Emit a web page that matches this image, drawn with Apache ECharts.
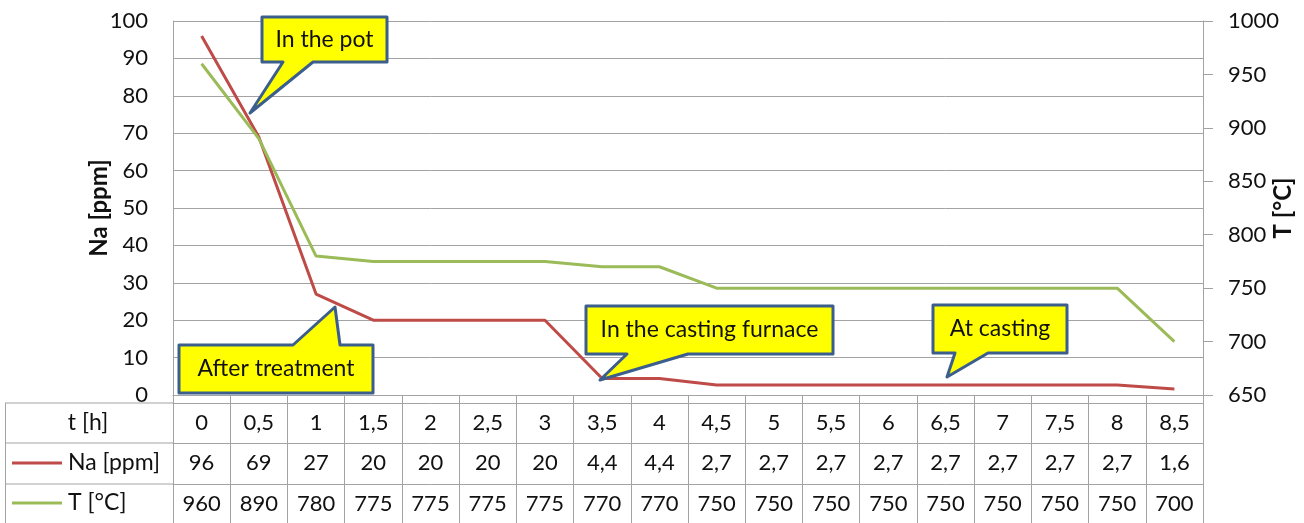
<!DOCTYPE html>
<html>
<head>
<meta charset="utf-8">
<script src="https://cdn.jsdelivr.net/npm/echarts@6/dist/echarts.min.js"></script>
<style>
  html, body { margin: 0; padding: 0; background: #fff; }
  #chart { width: 1304px; height: 523px; }
</style>
</head>
<body>
<div id="chart"></div>
<script>
// data
const timeLabels = ['0', '0,5', '1', '1,5', '2', '2,5', '3', '3,5', '4', '4,5', '5', '5,5', '6', '6,5', '7', '7,5', '8', '8,5'];
const naValues = [96, 69, 27, 20, 20, 20, 20, 4.4, 4.4, 2.7, 2.7, 2.7, 2.7, 2.7, 2.7, 2.7, 2.7, 1.6];
const tempValues = [960, 890, 780, 775, 775, 775, 775, 770, 770, 750, 750, 750, 750, 750, 750, 750, 750, 700];
const naTicks = { min: 0, max: 100, step: 10 };
const tempTicks = { min: 650, max: 1000, step: 50 };
const calloutTexts = ['In the pot', 'After treatment', 'In the casting furnace', 'At casting'];

const FONT = 'Lato, "Open Sans", sans-serif';
const GRAY = '#A3A3A3';
const RED = '#BE4B48';
const GREEN = '#9BBB59';

const comma = v => String(v).replace('.', ',');

// callout shapes (box + pointer), pixel layout
const calloutShapes = [
  { box: [262, 17, 387, 62], side: 'bottom', base: [283, 313], tip: [250, 113] },
  { box: [179, 345, 373, 393], side: 'top', base: [293, 340], tip: [335, 307] },
  { box: [586, 306, 833, 354], side: 'bottom', base: [627, 688], tip: [600, 380] },
  { box: [933, 305, 1067, 353], side: 'bottom', base: [955, 988], tip: [947, 377] },
];

function calloutGraphic(shape, text) {
  const [x0, y0, x1, y1] = shape.box;
  const [b0, b1] = shape.base;
  let pts;
  if (shape.side === 'bottom') {
    pts = [[x0, y0], [x1, y0], [x1, y1], [b1, y1], shape.tip, [b0, y1], [x0, y1]];
  } else {
    pts = [[x0, y0], [b0, y0], shape.tip, [b1, y0], [x1, y0], [x1, y1], [x0, y1]];
  }
  return [
    {
      type: 'polygon',
      z: 100,
      shape: { points: pts },
      style: { fill: '#FFFF00', stroke: '#3B5E8C', lineWidth: 3, lineJoin: 'round' },
    },
    {
      type: 'text',
      z: 101,
      x: (x0 + x1) / 2,
      y: (y0 + y1) / 2,
      style: {
        text: text, font: '23px ' + FONT, fill: '#111',
        align: 'center', verticalAlign: 'middle',
      },
    },
  ];
}

const chart = echarts.init(document.getElementById('chart'));

const tableAxis = (offset, labels) => ({
  type: 'category',
  data: timeLabels,
  position: 'bottom',
  offset: offset,
  boundaryGap: true,
  axisLine: { show: true, lineStyle: { color: GRAY, width: 1 } },
  axisTick: { show: false },
  splitLine: { show: false },
  axisLabel: {
    show: labels != null,
    interval: 0,
    margin: 20,
    verticalAlign: 'middle',
    color: '#111',
    fontSize: 22,
    fontFamily: FONT,
    formatter: (v, i) => (labels ? labels[i] : ''),
  },
});

const graphics = [];
// left header column of the data table
[403, 443, 484].forEach(y => {
  graphics.push({ type: 'line', shape: { x1: 5, y1: y, x2: 173, y2: y }, style: { stroke: GRAY, lineWidth: 1 } });
});
graphics.push({ type: 'line', shape: { x1: 5.5, y1: 403, x2: 5.5, y2: 523 }, style: { stroke: GRAY, lineWidth: 1 } });
graphics.push({ type: 'text', x: 88, y: 423, style: { text: 't [h]', font: '23px ' + FONT, fill: '#111', align: 'center', verticalAlign: 'middle' } });
graphics.push({ type: 'line', shape: { x1: 12, y1: 463, x2: 62, y2: 463 }, style: { stroke: RED, lineWidth: 3 } });
graphics.push({ type: 'text', x: 68, y: 463, style: { text: 'Na [ppm]', font: '23px ' + FONT, fill: '#111', align: 'left', verticalAlign: 'middle' } });
graphics.push({ type: 'line', shape: { x1: 12, y1: 503, x2: 62, y2: 503 }, style: { stroke: GREEN, lineWidth: 3 } });
graphics.push({ type: 'text', x: 68, y: 503, style: { text: 'T [°C]', font: '23px ' + FONT, fill: '#111', align: 'left', verticalAlign: 'middle' } });
calloutShapes.forEach((s, i) => graphics.push(...calloutGraphic(s, calloutTexts[i])));

chart.setOption({
  animation: false,
  backgroundColor: '#fff',
  textStyle: { fontFamily: FONT },
  grid: { left: 173, right: 101, top: 21, bottom: 128, containLabel: false, outerBoundsMode: 'none' },
  xAxis: [
    {
      type: 'category',
      data: timeLabels,
      boundaryGap: true,
      axisLine: { show: true, lineStyle: { color: GRAY, width: 1 } },
      axisTick: { show: true, interval: 0, length: 130, lineStyle: { color: GRAY, width: 1 } },
      axisLabel: { show: false },
      splitLine: { show: false },
    },
    tableAxis(8, timeLabels),
    tableAxis(48, naValues.map(comma)),
    tableAxis(89, tempValues.map(comma)),
  ],
  yAxis: [
    {
      type: 'value',
      min: naTicks.min,
      max: naTicks.max,
      interval: naTicks.step,
      name: 'Na [ppm]',
      nameLocation: 'middle',
      nameRotate: 90,
      nameGap: 62,
      nameMoveOverlap: false,
      nameTextStyle: { fontSize: 24, fontWeight: 'bold', color: '#111', fontFamily: FONT },
      axisLine: { show: true, lineStyle: { color: GRAY } },
      axisTick: { show: false },
      axisLabel: { margin: 25, fontSize: 22, color: '#111', fontFamily: FONT, formatter: v => String(v) },
      splitLine: { show: true, lineStyle: { color: GRAY, width: 1 } },
    },
    {
      type: 'value',
      position: 'right',
      min: tempTicks.min,
      max: tempTicks.max,
      interval: tempTicks.step,
      name: 'T [°C]',
      nameLocation: 'middle',
      nameRotate: 90,
      nameGap: 68,
      nameMoveOverlap: false,
      nameTextStyle: { fontSize: 24, fontWeight: 'bold', color: '#111', fontFamily: FONT },
      axisLine: { show: true, lineStyle: { color: GRAY } },
      axisTick: { show: true, length: 10, lineStyle: { color: GRAY } },
      axisLabel: { margin: 25, fontSize: 22, color: '#111', fontFamily: FONT, formatter: v => String(v) },
      splitLine: { show: false },
    },
  ],
  series: [
    {
      name: 'Na [ppm]',
      type: 'line',
      xAxisIndex: 0,
      yAxisIndex: 0,
      data: naValues,
      showSymbol: false,
      lineStyle: { color: RED, width: 3 },
      itemStyle: { color: RED },
    },
    {
      name: 'T [°C]',
      type: 'line',
      xAxisIndex: 0,
      yAxisIndex: 1,
      data: tempValues,
      showSymbol: false,
      lineStyle: { color: GREEN, width: 3 },
      itemStyle: { color: GREEN },
    },
  ],
  graphic: graphics,
});
</script>
</body>
</html>
